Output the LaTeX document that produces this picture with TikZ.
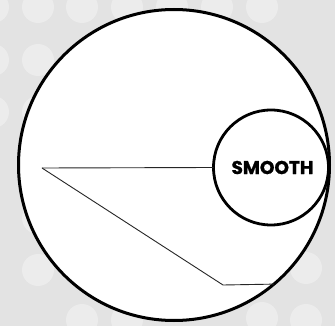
\documentclass[tikz,border=0pt]{standalone}
\usepackage{fontspec}
\newfontfamily\labelfont{Poppins}[BoldFeatures={FakeBold=1.2}]
\definecolor{bggray}{RGB}{227,227,227}
\definecolor{dotgray}{RGB}{236,236,236}
\begin{document}
\begin{tikzpicture}[x=1pt, y=-1pt]
    \useasboundingbox (0,0) rectangle (335,326);
    \fill[bggray] (0,0) rectangle (335,326);
    % faded dots of the background
    \foreach \dx/\dy in {-7/7, 38/7, 82/7, 127/7, 172/7, 217/7, 262/7,
                         -7/60, 38/60, -7/112, 38/112, 38/218,
                         38/270, 306/268, 82/320, 127/320, 262/318, 306/320}
        \fill[dotgray] (\dx,\dy) circle[radius=16pt];

    \node[circle, draw, fill=white, line width=3pt, minimum size=311pt, inner sep=0pt, outer sep=0pt] (lens) at (174,165) {};

    \coordinate (pivot) at (42,168);
    \coordinate (elbow) at (223,285);

    \draw[line width=.9pt, black!85] (pivot) -- (elbow) -- (lens.-50.5);

    \node[circle, draw, fill=white, line width=2.8pt, minimum size=115pt, inner sep=0pt, outer sep=0pt,
          font=\labelfont\bfseries\fontsize{18.5}{20}\selectfont] (smooth) at (271,167.5) {\hspace*{3pt}SMOOTH};
    \draw[line width=.9pt, black!85] (pivot) -- (smooth.west);
\end{tikzpicture}
\end{document}
